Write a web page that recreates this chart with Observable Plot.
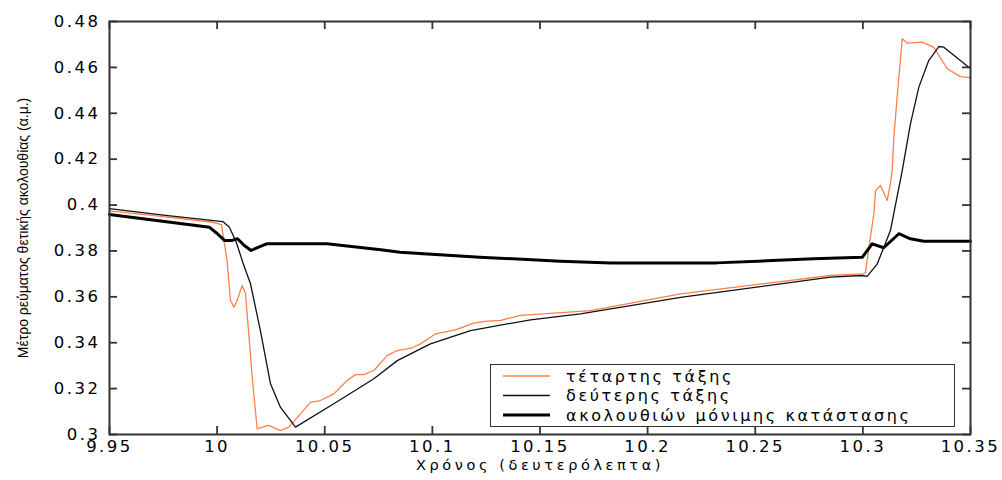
<!DOCTYPE html>
<html>
<head>
<meta charset="utf-8">
<script src="https://cdn.jsdelivr.net/npm/d3@7"></script>
<script src="https://cdn.jsdelivr.net/npm/@observablehq/plot@0.6"></script>
<style>
  body { margin: 0; background: #fff; }
  #wrap { position: relative; width: 1002px; height: 480px; }
  #legend { position: absolute; left: 490px; top: 364px; width: 463px; height: 61px;
            border: 1.5px solid #333; background: #fff; box-sizing: content-box; }
  #legend svg { display: block; }
</style>
</head>
<body>
<div id="wrap"></div>
<script>
// ---- data ----
const seriesNames = ["τέταρτης τάξης", "δεύτερης τάξης", "ακολουθιών μόνιμης κατάστασης"];
const seriesColors = ["#ff7f4a", "#111111", "#000000"];
const seriesWidths = [1.3, 1.3, 3];

const t4 = [9.95, 9.975, 9.998, 10.002, 10.0034, 10.0046, 10.0062, 10.0078, 10.0093, 10.0116, 10.0132, 10.0147, 10.0163, 10.0186, 10.024, 10.0294, 10.0333, 10.0387, 10.0434, 10.048, 10.0542, 10.0604, 10.0643, 10.0681, 10.0728, 10.079, 10.0837, 10.0906, 10.0945, 10.1015, 10.1107, 10.1192, 10.1255, 10.1316, 10.1409, 10.1735, 10.2153, 10.285, 10.3, 10.3012, 10.3035, 10.3051, 10.3059, 10.3082, 10.3113, 10.3128, 10.3136, 10.3144, 10.3159, 10.3183, 10.3206, 10.3275, 10.3329, 10.3392, 10.3453, 10.35];
const y4 = [0.3975, 0.395, 0.3925, 0.3915, 0.3831, 0.376, 0.3584, 0.3555, 0.3584, 0.3649, 0.3613, 0.3439, 0.325, 0.3025, 0.304, 0.3017, 0.3032, 0.309, 0.3141, 0.3148, 0.3177, 0.3235, 0.3261, 0.3261, 0.3279, 0.3344, 0.3366, 0.3378, 0.3395, 0.3439, 0.3456, 0.3485, 0.3494, 0.3497, 0.3519, 0.354, 0.3613, 0.3693, 0.37, 0.3705, 0.386, 0.3962, 0.4063, 0.4085, 0.402, 0.4093, 0.4151, 0.4296, 0.447, 0.4725, 0.4706, 0.471, 0.4688, 0.4594, 0.456, 0.4555];

const t2 = [9.95, 9.975, 10.0026, 10.0057, 10.0089, 10.0119, 10.0155, 10.0201, 10.0248, 10.0294, 10.0364, 10.0542, 10.0728, 10.0837, 10.0991, 10.1177, 10.1456, 10.1688, 10.2153, 10.285, 10.2997, 10.302, 10.3067, 10.3128, 10.3183, 10.3221, 10.326, 10.3306, 10.3353, 10.3376, 10.3492, 10.35];
const y2 = [0.3984, 0.3956, 0.3928, 0.3903, 0.3838, 0.3751, 0.3657, 0.3453, 0.3221, 0.3119, 0.3032, 0.3134, 0.3243, 0.3322, 0.3395, 0.3453, 0.35, 0.3526, 0.3598, 0.3686, 0.3693, 0.3689, 0.3744, 0.3889, 0.4151, 0.4354, 0.4514, 0.463, 0.4691, 0.4688, 0.4601, 0.4597];

const tss = [9.95, 9.9965, 10.0, 10.0034, 10.007, 10.0095, 10.0125, 10.0158, 10.019, 10.023, 10.051, 10.076, 10.085, 10.122, 10.1595, 10.183, 10.232, 10.258, 10.277, 10.2997, 10.3043, 10.3097, 10.3167, 10.3221, 10.3283, 10.35];
const yss = [0.3959, 0.3903, 0.3876, 0.3846, 0.3846, 0.3853, 0.3825, 0.3802, 0.3816, 0.3831, 0.3831, 0.3805, 0.3794, 0.3773, 0.3755, 0.3748, 0.3748, 0.3758, 0.3766, 0.3772, 0.3831, 0.3814, 0.3875, 0.3853, 0.3842, 0.3842];

const xTicks = [9.95, 10, 10.05, 10.1, 10.15, 10.2, 10.25, 10.3, 10.35];
const yTicks = [0.3, 0.32, 0.34, 0.36, 0.38, 0.4, 0.42, 0.44, 0.46, 0.48];
const xLabel = "Χρόνος (δευτερόλεπτα)";
const yLabel = "Μέτρο ρεύματος θετικής ακολουθίας (α.μ.)";

// ---- build ----
const toRows = (ts, ys, s) => ts.map((t, i) => ({t, v: ys[i], s}));
const rows4 = toRows(t4, y4, 0), rows2 = toRows(t2, y2, 1), rowsS = toRows(tss, yss, 2);

const W = 1002, H = 480, mL = 109, mR = 32, mT = 21, mB = 46;
const innerW = W - mL - mR, innerH = H - mT - mB;
const tick = 8;
const fmt = d => String(+d.toFixed(2));
const axisColor = "#333";

const chart = Plot.plot({
  width: W, height: H,
  marginLeft: mL, marginRight: mR, marginTop: mT, marginBottom: mB,
  style: {fontFamily: "DejaVu Sans", fontSize: "16.5px", letterSpacing: "2.5px", color: "#000", background: "#fff"},
  x: {domain: [9.95, 10.35]},
  y: {domain: [0.3, 0.48]},
  marks: [
    Plot.line(rows4, {x: "t", y: "v", stroke: seriesColors[0], strokeWidth: seriesWidths[0]}),
    Plot.line(rows2, {x: "t", y: "v", stroke: seriesColors[1], strokeWidth: seriesWidths[1]}),
    Plot.line(rowsS, {x: "t", y: "v", stroke: seriesColors[2], strokeWidth: seriesWidths[2]}),
    // inward ticks on all four sides
    Plot.tickX(xTicks, {x: d => d, stroke: axisColor, strokeWidth: 1.8, insetTop: innerH - tick}),
    Plot.tickX(xTicks, {x: d => d, stroke: axisColor, strokeWidth: 1.8, insetBottom: innerH - tick}),
    Plot.tickY(yTicks, {y: d => d, stroke: axisColor, strokeWidth: 1.8, insetRight: innerW - tick}),
    Plot.tickY(yTicks, {y: d => d, stroke: axisColor, strokeWidth: 1.8, insetLeft: innerW - tick}),
    Plot.frame({stroke: axisColor, strokeWidth: 2}),
    Plot.axisX(xTicks, {anchor: "bottom", tickSize: 0, tickPadding: 6, tickFormat: fmt, label: null, fill: "#000"}),
    Plot.axisY(yTicks, {anchor: "left", tickSize: 0, tickPadding: 9, tickFormat: fmt, label: null, fill: "#000"}),
    Plot.text([xLabel], {frameAnchor: "bottom", text: d => d, dy: 35.5, textAnchor: "middle", fontSize: 14.5, fill: "#000"}),
    Plot.text([yLabel], {frameAnchor: "left", text: d => d, dx: -86, rotate: -90, textAnchor: "middle", fontSize: 14, fontFamily: "Liberation Sans", fill: "#000"})
  ]
});

const wrap = document.getElementById("wrap");
wrap.appendChild(chart);

// y label without extra letter spacing
d3.select(chart).selectAll("text").filter(function() { return this.textContent === yLabel; })
  .style("letter-spacing", "0px");
d3.select(chart).selectAll("text").filter(function() { return this.textContent === xLabel; })
  .style("letter-spacing", "3.6px");

// legend
const leg = document.createElement("div");
leg.id = "legend";
wrap.appendChild(leg);
const lsvg = d3.select(leg).append("svg").attr("width", 463).attr("height", 61);
const rowY = [11, 30.5, 50];
seriesNames.forEach((name, i) => {
  lsvg.append("line").attr("x1", 12).attr("x2", 59).attr("y1", rowY[i]).attr("y2", rowY[i])
    .attr("stroke", seriesColors[i]).attr("stroke-width", seriesWidths[i]);
  lsvg.append("text").attr("x", 75).attr("y", rowY[i]).attr("dy", "0.35em")
    .attr("font-family", "DejaVu Sans").attr("font-size", 16).style("letter-spacing", "2.6px")
    .attr("fill", "#000").text(name);
});
</script>
</body>
</html>
